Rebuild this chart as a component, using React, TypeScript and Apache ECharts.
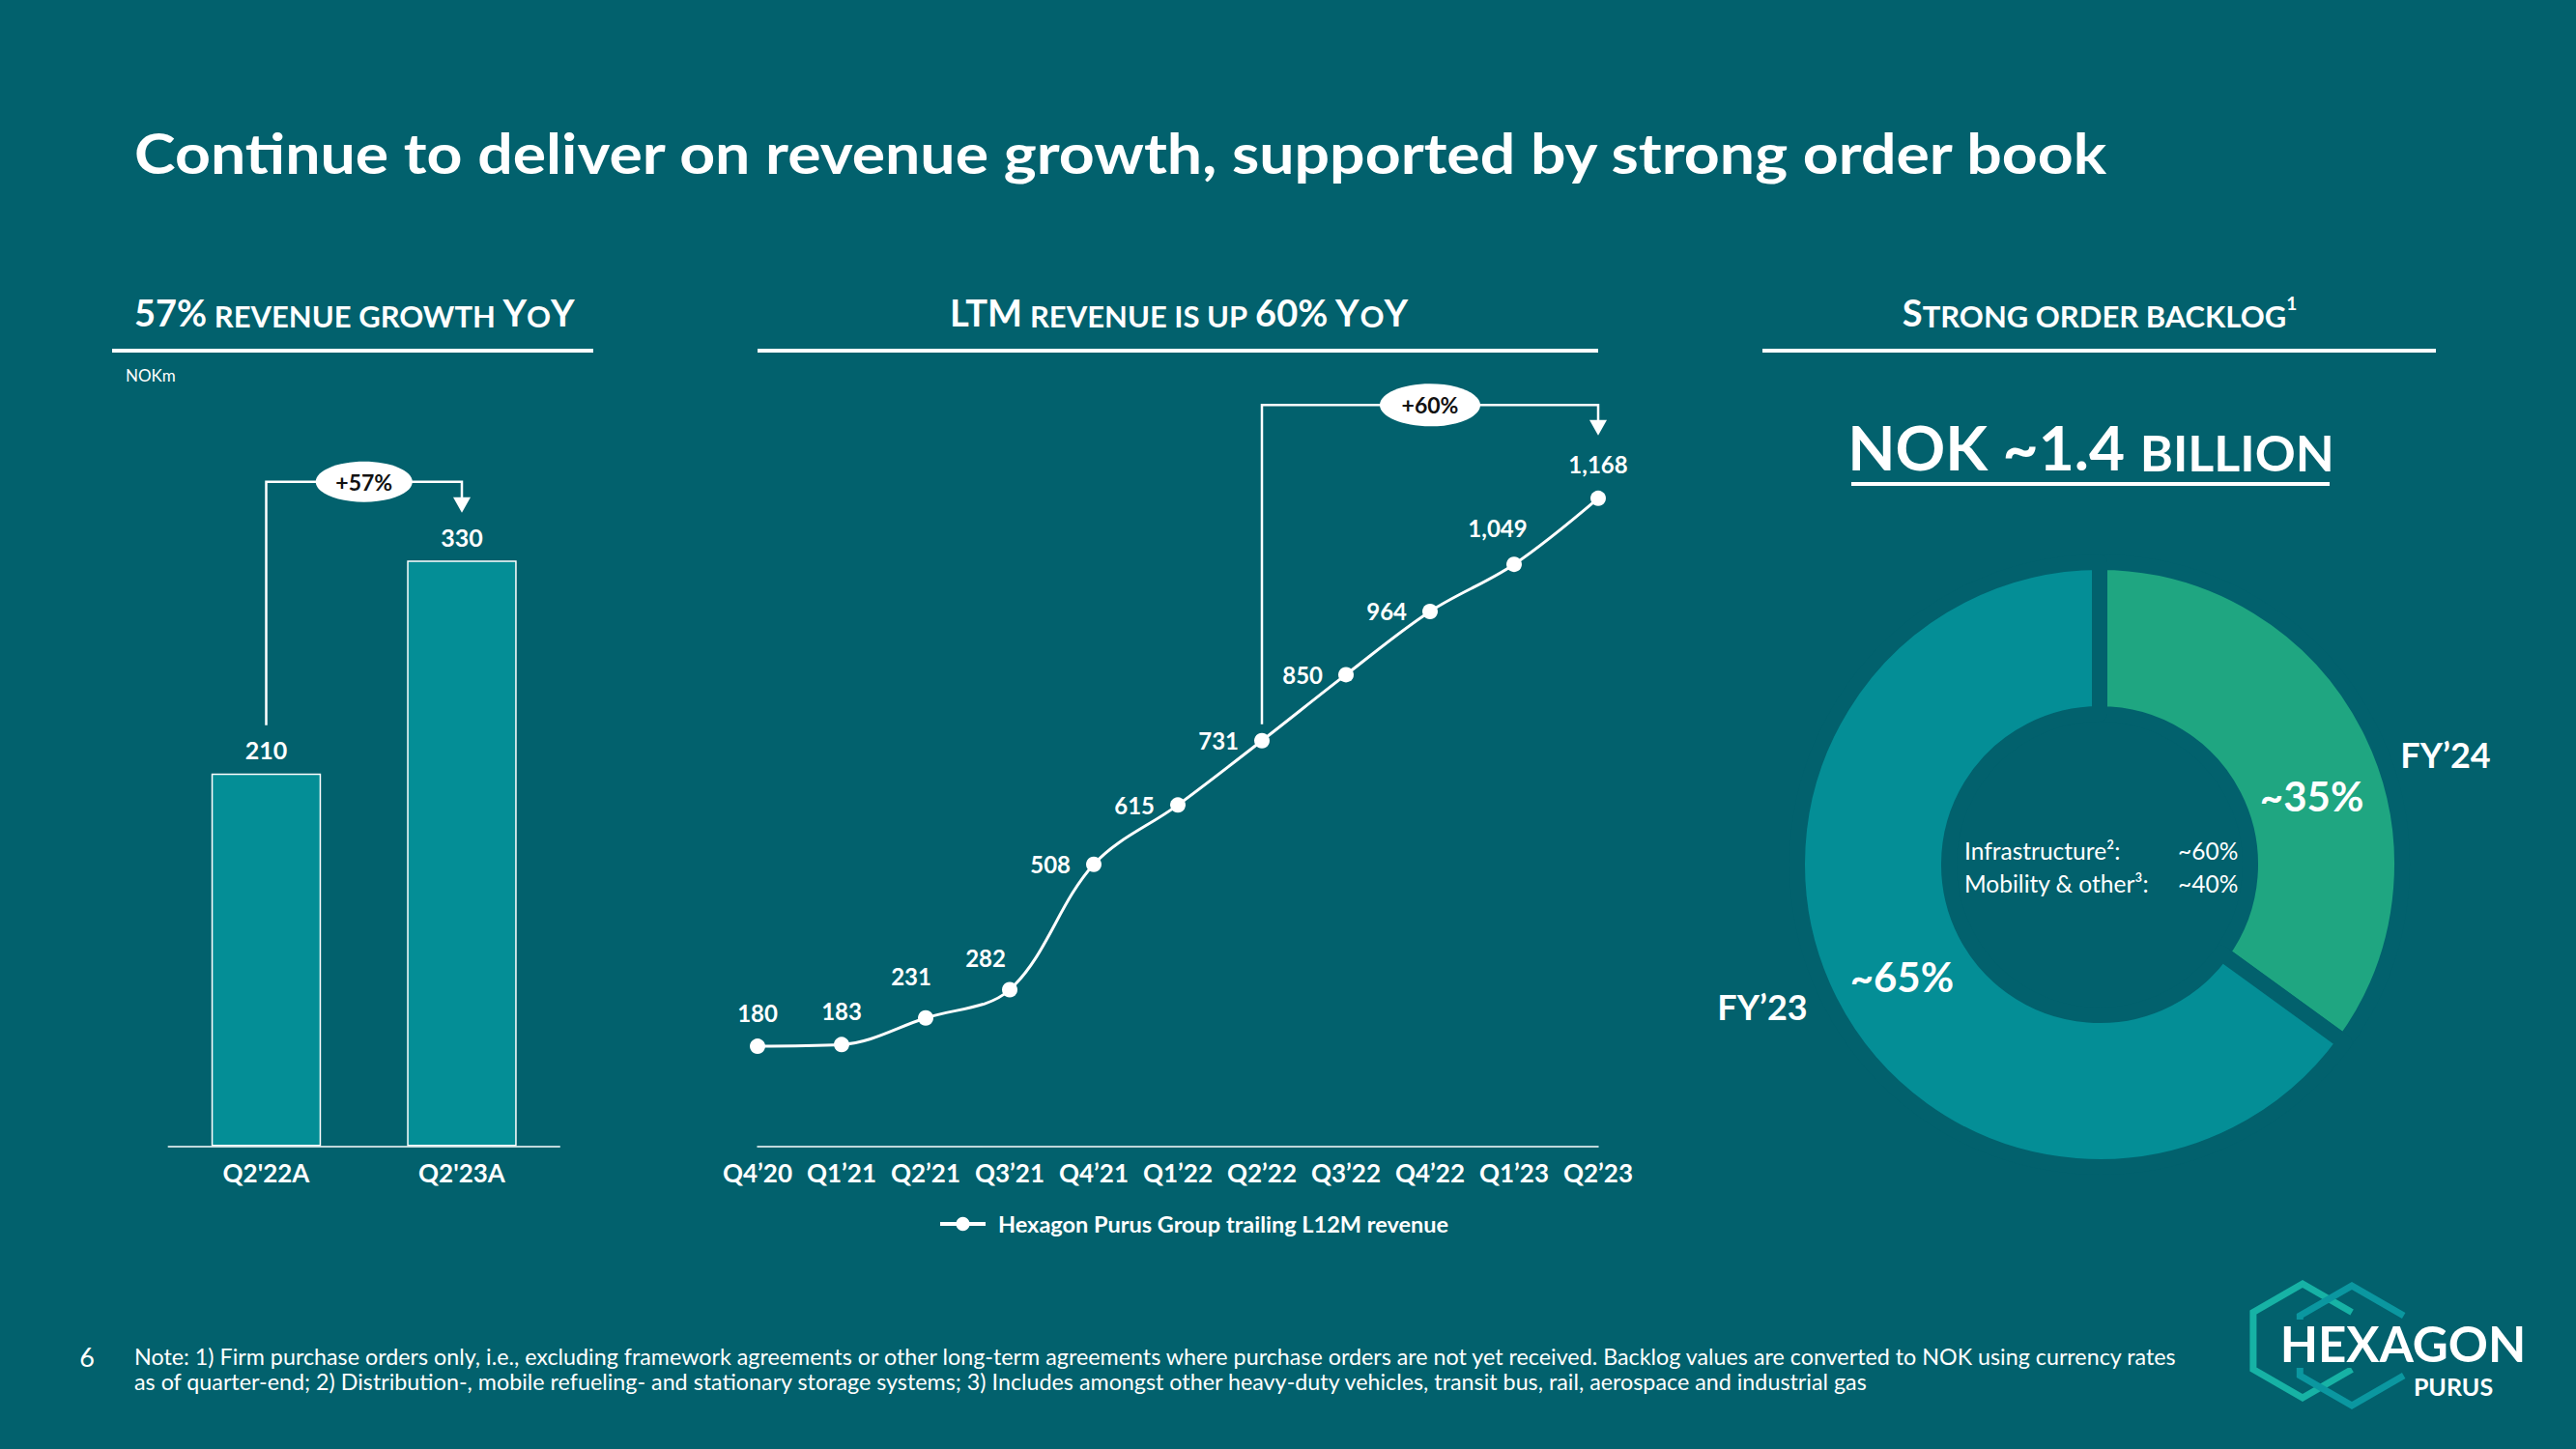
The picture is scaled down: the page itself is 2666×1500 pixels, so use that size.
import React, { useEffect, useRef } from 'react';
import * as echarts from 'echarts';

// ---------- data ----------
const barCategories = ["Q2'22A", "Q2'23A"];
const barValues = [210, 330];
const barGrowthLabel = '+57%';

const ltmCategories = ['Q4’20', 'Q1’21', 'Q2’21', 'Q3’21', 'Q4’21', 'Q1’22', 'Q2’22', 'Q3’22', 'Q4’22', 'Q1’23', 'Q2’23'];
const ltmValues = [180, 183, 231, 282, 508, 615, 731, 850, 964, 1049, 1168];
const ltmSeriesName = 'Hexagon Purus Group trailing L12M revenue';
const ltmGrowthLabel = '+60%';
const ltmCompareFrom = 6;

const backlogNames = ['FY’24', 'FY’23'];
const backlogShares = [35, 65];
const backlogTotal = 'NOK ~1.4 ';
const backlogTotalUnit = 'BILLION';
const segmentNames = ['Infrastructure²:', 'Mobility & other³:'];
const segmentShares = ['~60%', '~40%'];

const titleText = 'Continue to deliver on revenue growth, supported by strong order book';
const noteLines = [
  'Note: 1) Firm purchase orders only, i.e., excluding framework agreements or other long-term agreements where purchase orders are not yet received. Backlog values are converted to NOK using currency rates',
  'as of quarter-end; 2) Distribution-, mobile refueling- and stationary storage systems; 3) Includes amongst other heavy-duty vehicles, transit bus, rail, aerospace and industrial gas',
];

// ---------- styles ----------
const BG = '#02616D';
const TEAL = '#048E96';
const GREEN = '#1FA681';
const WHITE = '#FFFFFF';
const FONT = 'Lato, "Noto Sans", sans-serif';

const ltmLabel = (i: number) => {
  if (i >= 4 && i <= 8) return { position: 'left', distance: 16 };
  if (i === 2) return { offset: [-15, -8] };
  if (i === 3) return { offset: [-25, 2] };
  if (i === 9) return { offset: [-17, -3] };
  return {};
};

const headerRich = (size: number, small: number) => ({
  b: { fontSize: size, fontWeight: 'bold', fontFamily: FONT, fill: WHITE, verticalAlign: 'bottom' },
  s: { fontSize: small, fontWeight: 'bold', fontFamily: FONT, fill: WHITE, verticalAlign: 'bottom' },
  sup: { fontSize: 19, fontWeight: 'bold', fontFamily: FONT, fill: WHITE, verticalAlign: 'top' },
});

function hexPoints(cx: number, cy: number, r: number) {
  const pts: number[][] = [];
  // open hexagon: upper-right -> top -> upper-left -> lower-left -> bottom -> lower-right
  const angles = [-30, -90, -150, 150, 90, 30];
  angles.forEach((a) => {
    const rad = (a * Math.PI) / 180;
    pts.push([cx + r * Math.cos(rad), cy + r * Math.sin(rad)]);
  });
  return pts;
}

export default function App() {
  const ref = useRef<HTMLDivElement>(null);

  useEffect(() => {
    if (!ref.current) return;
    const chart = echarts.init(ref.current, null, { renderer: 'svg' });

    const staticGraphics: any[] = [
      // title
      { type: 'text', x: 139, y: 158, scaleX: 1.13, style: { text: titleText, fill: WHITE, fontFamily: FONT, fontWeight: 'bold', fontSize: 57, verticalAlign: 'middle' } },
      // headers
      { type: 'text', x: 139, y: 342, style: { text: '{b|57%}{s| REVENUE GROWTH }{b|Y}{s|O}{b|Y}', rich: headerRich(38, 31), verticalAlign: 'bottom', align: 'left' } },
      { type: 'rect', shape: { x: 116, y: 361, width: 498, height: 4 }, style: { fill: WHITE } },
      { type: 'text', x: 130, y: 388, style: { text: 'NOKm', fill: WHITE, fontFamily: FONT, fontSize: 17, verticalAlign: 'middle' } },

      { type: 'text', x: 1220, y: 342, style: { text: '{b|LTM}{s| REVENUE IS UP }{b|60% Y}{s|O}{b|Y}', rich: headerRich(38, 31), verticalAlign: 'bottom', align: 'center' } },
      { type: 'rect', shape: { x: 784, y: 361, width: 870, height: 4 }, style: { fill: WHITE } },

      { type: 'text', x: 2173, y: 342, style: { text: '{b|S}{s|TRONG ORDER BACKLOG}{sup|1}', rich: headerRich(38, 31), verticalAlign: 'bottom', align: 'center' } },
      { type: 'rect', shape: { x: 1824, y: 361, width: 697, height: 4 }, style: { fill: WHITE } },

      { type: 'text', x: 2164, y: 494, style: { text: '{b|' + backlogTotal + '}{s|' + backlogTotalUnit + '}', rich: headerRich(64, 52), verticalAlign: 'bottom', align: 'center' } },
      { type: 'rect', shape: { x: 1916, y: 499, width: 495, height: 4 }, style: { fill: WHITE } },

      // donut outside names
      { type: 'text', x: 2531, y: 781, style: { text: backlogNames[0], fill: WHITE, fontFamily: FONT, fontWeight: 'bold', fontSize: 36, align: 'center', verticalAlign: 'middle' } },
      { type: 'text', x: 1824, y: 1042, style: { text: backlogNames[1], fill: WHITE, fontFamily: FONT, fontWeight: 'bold', fontSize: 36, align: 'center', verticalAlign: 'middle' } },

      // donut centre
      ...segmentNames.map((n, i) => ({ type: 'text', x: 2033, y: 880 + i * 34, style: { text: n, fill: WHITE, fontFamily: FONT, fontSize: 24.5, verticalAlign: 'middle' } })),
      ...segmentShares.map((n, i) => ({ type: 'text', x: 2254, y: 880 + i * 34, style: { text: n, fill: WHITE, fontFamily: FONT, fontSize: 24.5, verticalAlign: 'middle' } })),

      // footnote
      { type: 'text', x: 90, y: 1404, style: { text: '6', fill: WHITE, fontFamily: FONT, fontSize: 27, align: 'center', verticalAlign: 'middle' } },
      ...noteLines.map((t, i) => ({ type: 'text', x: 139, y: 1404 + i * 26, style: { text: t, fill: WHITE, fontFamily: FONT, fontSize: 23.3, verticalAlign: 'middle' } })),

      // logo
      { type: 'polyline', shape: { points: hexPoints(2383, 1388, 59) }, style: { stroke: '#17B2A5', lineWidth: 7, fill: 'none', lineJoin: 'miter' } },
      { type: 'polyline', shape: { points: hexPoints(2434, 1393, 62) }, style: { stroke: '#0B97A0', lineWidth: 7, fill: 'none', lineJoin: 'miter' } },
      { type: 'rect', shape: { x: 2346, y: 1366, width: 282, height: 50 }, style: { fill: BG } },
      { type: 'rect', shape: { x: 2494, y: 1418, width: 90, height: 28 }, style: { fill: BG } },
      { type: 'text', x: 2487, y: 1390, style: { text: 'HEXAGON', fill: WHITE, fontFamily: FONT, fontWeight: 'bold', fontSize: 51, align: 'center', verticalAlign: 'middle' } },
      { type: 'text', x: 2539, y: 1435, style: { text: 'PURUS', fill: WHITE, fontFamily: FONT, fontWeight: 'bold', fontSize: 25, align: 'center', verticalAlign: 'middle' } },
    ];

    const option: any = {
      animation: false,
      backgroundColor: BG,
      textStyle: { fontFamily: FONT },
      grid: [
        { left: 174.25, width: 405, top: 451.6, height: 734.8 },
        { left: 784, width: 870, top: 497.5, height: 688.9 },
      ],
      xAxis: [
        {
          type: 'category', gridIndex: 0, data: barCategories,
          axisLine: { lineStyle: { color: WHITE, width: 1.5 } }, axisTick: { show: false },
          axisLabel: { color: WHITE, fontFamily: FONT, fontWeight: 'bold', fontSize: 26, margin: 15 },
        },
        {
          type: 'category', gridIndex: 1, data: ltmCategories, boundaryGap: false,
          axisLine: { lineStyle: { color: WHITE, width: 1.5 } }, axisTick: { show: false },
          axisLabel: { color: WHITE, fontFamily: FONT, fontWeight: 'bold', fontSize: 26, margin: 15, interval: 0 },
        },
      ],
      yAxis: [
        { type: 'value', gridIndex: 0, min: 0, max: 400, show: false },
        { type: 'value', gridIndex: 1, min: 0, max: 1200, show: false },
      ],
      legend: {
        data: [ltmSeriesName], left: 966, top: 1250, itemWidth: 47, itemHeight: 18, selectedMode: false,
        lineStyle: { width: 4 },
        textStyle: { color: WHITE, fontFamily: FONT, fontWeight: 'bold', fontSize: 23.5, padding: [0, 0, 0, 8] },
      },
      series: [
        {
          type: 'bar', xAxisIndex: 0, yAxisIndex: 0, data: barValues, barWidth: '56%', silent: true,
          itemStyle: { color: TEAL, borderColor: WHITE, borderWidth: 1.5 },
          label: { show: true, position: 'top', distance: 12, color: WHITE, fontFamily: FONT, fontWeight: 'bold', fontSize: 25 },
        },
        {
          type: 'line', name: ltmSeriesName, xAxisIndex: 1, yAxisIndex: 1, silent: true,
          data: ltmValues.map((v, i) => ({ value: v, label: ltmLabel(i) })),
          smooth: 0.35, symbol: 'circle', symbolSize: 16,
          lineStyle: { color: WHITE, width: 3 }, itemStyle: { color: WHITE },
          label: {
            show: true, position: 'top', distance: 15, color: WHITE, fontFamily: FONT, fontWeight: 'bold', fontSize: 24,
            formatter: (p: any) => Number(p.value).toLocaleString('en-US'),
          },
        },
        {
          type: 'pie', center: [2173, 895], radius: [156, 313], startAngle: 90, clockwise: true, silent: true,
          itemStyle: { borderColor: BG, borderWidth: 16 },
          data: backlogNames.map((n, i) => ({
            name: n, value: backlogShares[i],
            itemStyle: { color: i === 0 ? GREEN : TEAL },
            label: { offset: i === 0 ? [8, 37] : [7, 8] },
          })),
          label: {
            show: true, position: 'inside', color: WHITE, fontFamily: FONT, fontWeight: 'bold', fontSize: 42,
            formatter: (p: any) => '~' + p.value + '%',
          },
          labelLine: { show: false },
        },
      ],
      graphic: staticGraphics,
    };

    chart.setOption(option);

    // growth brackets anchored on the data through the chart's own scales
    const bracket = (seriesIndex: number, from: number[], to: number[], startGap: number, levelGap: number, tipGap: number, text: string, rx: number, ry: number) => {
      const a = chart.convertToPixel({ seriesIndex }, from) as number[];
      const b = chart.convertToPixel({ seriesIndex }, to) as number[];
      const level = b[1] - levelGap;
      const tip = b[1] - tipGap;
      const mid = (a[0] + b[0]) / 2;
      return [
        { type: 'polyline', shape: { points: [[a[0], a[1] - startGap], [a[0], level], [b[0], level], [b[0], tip - 14]] }, style: { stroke: WHITE, lineWidth: 2.5, fill: 'none' } },
        { type: 'polygon', shape: { points: [[b[0] - 9, tip - 16], [b[0] + 9, tip - 16], [b[0], tip]] }, style: { fill: WHITE } },
        { type: 'ellipse', shape: { cx: mid, cy: level, rx, ry }, style: { fill: WHITE } },
        { type: 'text', x: mid, y: level, style: { text, fill: '#111111', fontFamily: FONT, fontWeight: 'bold', fontSize: 23, align: 'center', verticalAlign: 'middle' } },
      ];
    };

    const extra = [
      ...bracket(0, [0, barValues[0]], [1, barValues[1]], 50, 81.5, 49.5, barGrowthLabel, 50, 21),
      ...bracket(1, [ltmCompareFrom, ltmValues[ltmCompareFrom]], [ltmValues.length - 1, ltmValues[ltmValues.length - 1]], 17, 96.5, 65, ltmGrowthLabel, 52, 22),
    ];

    chart.setOption({ graphic: [...staticGraphics, ...extra] });

    return () => chart.dispose();
  }, []);

  return <div ref={ref} style={{ position: 'absolute', left: 0, top: 0, width: 2666, height: 1500 }} />;
}
